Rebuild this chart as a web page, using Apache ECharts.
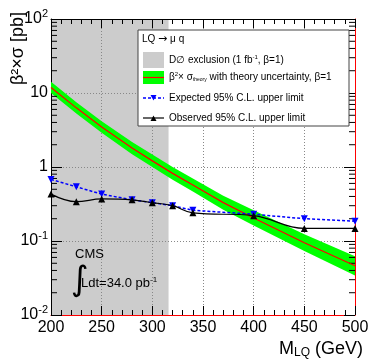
<!DOCTYPE html>
<html>
<head>
<meta charset="utf-8">
<script src="https://cdn.jsdelivr.net/npm/echarts@6/dist/echarts.min.js"></script>
<style>
  html, body { margin: 0; padding: 0; background: #fff; }
  #chart { width: 374px; height: 363px; }
</style>
</head>
<body>
<div id="chart"></div>
<script>
// LQ -> mu q limits
var masses = [200, 225, 250, 280, 300, 320, 340, 400, 450, 500];
var expected = [0.68, 0.54, 0.43, 0.36, 0.33, 0.30, 0.26, 0.23, 0.20, 0.185];
var observed = [0.43, 0.34, 0.37, 0.36, 0.33, 0.30, 0.24, 0.22, 0.148, 0.148];

// theory cross section and its uncertainty band
var theoryMasses = [200, 225, 250, 280, 300, 320, 340, 370, 400, 450, 500];
var theory   = [11.9, 6.3, 3.47, 1.8, 1.21, 0.82, 0.57, 0.33, 0.205, 0.0949, 0.0463];
var theoryLo = [10.0, 5.3, 2.9, 1.49, 1.0, 0.67, 0.465, 0.265, 0.162, 0.073, 0.0343];
var theoryHi = [14.2, 7.5, 4.15, 2.17, 1.47, 1.0, 0.70, 0.41, 0.26, 0.123, 0.062];

var d0Limit = 316;   // D0 exclusion, 1 fb-1
var yMinorTicks = [0.02, 0.03, 0.04, 0.05, 0.06, 0.07, 0.08, 0.09,
                   0.2, 0.3, 0.4, 0.5, 0.6, 0.7, 0.8, 0.9,
                   2, 3, 4, 5, 6, 7, 8, 9,
                   20, 30, 40, 50, 60, 70, 80, 90];

var FONT = '"Liberation Sans", Arial, Helvetica, sans-serif';

var chart = echarts.init(document.getElementById('chart'), null, {renderer: 'canvas'});

function pairs(xs, ys) {
    return xs.map(function (x, i) { return [x, ys[i]]; });
}
var bandRows = theoryMasses.map(function (m, i) { return [m, theoryLo[i], theoryHi[i]]; });

function yLabel(v) {
    if (v >= 99) return '10{sup|2}';
    if (v >= 9.9) return '10';
    if (v >= 0.99) return '1';
    if (v >= 0.099) return '10{sup|-1}';
    return '10{sup|-2}';
}

var xAxisBase = {
    type: 'value', min: 200, max: 500, interval: 50,
    axisTick: {show: true, inside: true, length: 9, lineStyle: {color: '#000'}},
    minorTick: {show: true, splitNumber: 5, length: 5, lineStyle: {color: '#000'}},
    minorSplitLine: {show: false}
};

var option = {
    animation: false,
    grid: {left: 51, right: 19, top: 19, bottom: 48, containLabel: false},
    xAxis: [
        Object.assign({}, xAxisBase, {
            position: 'bottom',
            axisLine: {show: true, onZero: false, lineStyle: {color: '#ff0000', width: 1}},
            axisLabel: {color: '#000', fontSize: 16, fontFamily: FONT, margin: 5},
            splitLine: {show: true, lineStyle: {color: '#888', type: [1, 2], width: 1}}
        }),
        Object.assign({}, xAxisBase, {
            position: 'top',
            axisLine: {show: true, onZero: false, lineStyle: {color: '#000', width: 1}},
            axisLabel: {show: false},
            splitLine: {show: false}
        })
    ],
    yAxis: [
        {
            type: 'log', logBase: 10, min: 0.01, max: 100,
            axisLine: {show: true, lineStyle: {color: '#000', width: 1}},
            axisTick: {show: true, inside: true, length: 11, lineStyle: {color: '#000'}},
            axisLabel: {
                color: '#000', fontSize: 16, fontFamily: FONT, margin: 3,
                formatter: yLabel,
                rich: {sup: {fontSize: 11, fontFamily: FONT, color: '#000', verticalAlign: 'top', padding: [0, 0, 10, 0]}}
            },
            splitLine: {show: true, lineStyle: {color: '#888', type: [1, 2], width: 1}}
        },
        {
            type: 'log', logBase: 10, min: 0.01, max: 100, position: 'right',
            axisLine: {show: true, lineStyle: {color: '#ff0000', width: 1}},
            axisTick: {show: true, inside: true, length: 11, lineStyle: {color: '#000'}},
            axisLabel: {show: false},
            splitLine: {show: false}
        }
    ],
    series: [
        {
            name: 'D0 exclusion',
            type: 'line',
            data: [],
            silent: true,
            markArea: {
                z: -1,
                silent: true,
                itemStyle: {color: '#cccccc'},
                data: [[{xAxis: 200}, {xAxis: d0Limit}]]
            }
        },
        {
            // theory uncertainty band: one polygon through all rows
            name: 'band',
            type: 'custom',
            silent: true,
            data: bandRows,
            encode: {x: 0, y: [1, 2]},
            renderItem: function (params, api) {
                if (params.dataIndex !== 0) return null;
                var upper = bandRows.map(function (r) { return api.coord([r[0], r[2]]); });
                var lower = bandRows.map(function (r) { return api.coord([r[0], r[1]]); }).reverse();
                return {
                    type: 'polygon',
                    shape: {points: upper.concat(lower)},
                    style: {fill: '#00ff00'}
                };
            }
        },
        {
            name: 'theory',
            type: 'line',
            data: pairs(theoryMasses, theory),
            symbol: 'none',
            lineStyle: {color: '#ff0000', width: 1.2}
        },
        {
            name: 'Expected',
            type: 'line',
            data: pairs(masses, expected),
            symbol: 'triangle', symbolRotate: 180, symbolSize: 7,
            itemStyle: {color: '#0000ff'},
            lineStyle: {color: '#0000ff', width: 1.5, type: [3, 2]}
        },
        {
            name: 'Observed',
            type: 'line',
            data: pairs(masses, observed),
            smooth: 0.4,
            symbol: 'triangle', symbolSize: 7,
            itemStyle: {color: '#000'},
            lineStyle: {color: '#000', width: 1.2}
        },
        {
            // log minor ticks on left and right frame
            name: 'minor ticks',
            type: 'custom',
            silent: true,
            data: yMinorTicks.map(function (v) { return [200, v]; }),
            renderItem: function (params, api) {
                var l = api.coord([200, api.value(1)]);
                var r = api.coord([500, api.value(1)]);
                return {
                    type: 'group',
                    children: [
                        {type: 'line', shape: {x1: l[0], y1: l[1], x2: l[0] + 6, y2: l[1]}, style: {stroke: '#000', lineWidth: 1}},
                        {type: 'line', shape: {x1: r[0] - 6, y1: r[1], x2: r[0], y2: r[1]}, style: {stroke: '#000', lineWidth: 1}}
                    ]
                };
            }
        }
    ],
    graphic: [
        // y axis title
        {
            type: 'text', x: 18, y: 12, rotation: Math.PI / 2, z: 100,
            style: {text: 'β²×σ [pb]', font: '18px ' + FONT, fill: '#000', textAlign: 'right', textVerticalAlign: 'middle'}
        },
        // x axis title
        {
            type: 'text', right: 11, top: 340, z: 100,
            style: {
                text: 'M{sub|LQ} (GeV)', font: '18px ' + FONT, fill: '#000',
                rich: {sub: {fontSize: 12, fontFamily: FONT, fill: '#000', verticalAlign: 'bottom', padding: [8, 0, 0, 0]}}
            }
        },
        // CMS label
        {type: 'text', x: 75, y: 248, z: 100, style: {text: 'CMS', font: '13px ' + FONT, fill: '#000'}},
        {type: 'text', x: 71, y: 264, z: 100, style: {text: '∫', font: '34px "DejaVu Sans", sans-serif', fill: '#000'}},
        {
            type: 'text', x: 81, y: 276, z: 100,
            style: {
                text: 'Ldt=34.0 pb{sup|-1}', font: '13px ' + FONT, fill: '#000',
                rich: {sup: {fontSize: 8, fontFamily: FONT, fill: '#000', verticalAlign: 'top', padding: [0, 0, 7, 0]}}
            }
        },
        // legend box
        {
            type: 'group', x: 138, y: 30, z: 100,
            children: [
                {type: 'rect', z: 100, shape: {x: 0, y: 0, width: 211, height: 96}, style: {fill: '#fff', stroke: '#444', lineWidth: 1}},
                {type: 'text', z: 101, x: 4, y: 9, style: {
                    text: 'LQ {arr|→} μ q', font: '10px ' + FONT, fill: '#000', textVerticalAlign: 'middle',
                    rich: {arr: {fontSize: 11, fontFamily: '"DejaVu Sans", sans-serif', fill: '#000'}}
                }},
                {type: 'rect', z: 101, shape: {x: 5, y: 22, width: 21, height: 16}, style: {fill: '#cccccc'}},
                {type: 'text', z: 101, x: 31, y: 30, style: {
                    text: 'D∅ exclusion (1 fb{sup|-1}, β=1)', font: '10px ' + FONT, fill: '#000', textVerticalAlign: 'middle',
                    rich: {sup: {fontSize: 6, fontFamily: FONT, fill: '#000', verticalAlign: 'top', padding: [0, 0, 5, 0]}}
                }},
                {type: 'rect', z: 101, shape: {x: 5, y: 41, width: 21, height: 13}, style: {fill: '#00ff00'}},
                {type: 'line', z: 102, shape: {x1: 5, y1: 47.5, x2: 26, y2: 47.5}, style: {stroke: '#ff0000', lineWidth: 1.2}},
                {type: 'text', z: 101, x: 31, y: 47, style: {
                    text: 'β{sup|2}× σ{sub|theory} with theory uncertainty, β=1', font: '10px ' + FONT, fill: '#000', textVerticalAlign: 'middle',
                    rich: {
                        sup: {fontSize: 6, fontFamily: FONT, fill: '#000', verticalAlign: 'top', padding: [0, 0, 5, 0]},
                        sub: {fontSize: 5, fontFamily: FONT, fill: '#000', verticalAlign: 'bottom', padding: [5, 0, 0, 0]}
                    }
                }},
                {type: 'line', z: 101, shape: {x1: 5, y1: 68, x2: 26, y2: 68}, style: {stroke: '#0000ff', lineWidth: 1.3, lineDash: [3, 2]}},
                {type: 'polygon', z: 102, shape: {points: [[12.5, 65], [18.5, 65], [15.5, 70.5]]}, style: {fill: '#0000ff'}},
                {type: 'text', z: 101, x: 31, y: 68, style: {text: 'Expected 95% C.L. upper limit', font: '10px ' + FONT, fill: '#000', textVerticalAlign: 'middle'}},
                {type: 'line', z: 101, shape: {x1: 5, y1: 88, x2: 26, y2: 88}, style: {stroke: '#000', lineWidth: 1.2}},
                {type: 'polygon', z: 102, shape: {points: [[12.5, 91], [18.5, 91], [15.5, 85.5]]}, style: {fill: '#000'}},
                {type: 'text', z: 101, x: 31, y: 88, style: {text: 'Observed 95% C.L. upper limit', font: '10px ' + FONT, fill: '#000', textVerticalAlign: 'middle'}}
            ]
        }
    ]
};

chart.setOption(option);
</script>
</body>
</html>
